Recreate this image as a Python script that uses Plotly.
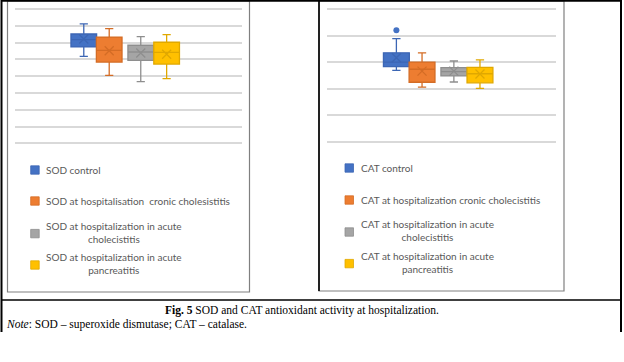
import plotly.graph_objects as go

# ---------------- data (arbitrary hidden units) ----------------
sod_names = ["SOD control",
             "SOD at hospitalisation  cronic cholesistitis",
             "SOD at hospitalization in acute<br>cholecistitis",
             "SOD at hospitalization in acute<br>pancreatitis"]
sod_lower = [51.8, 40.5, 36.7, 38.5]
sod_q1 = [57.4, 48.4, 49.4, 47.2]
sod_median = [61.8, 55.3, 54.4, 54.2]
sod_q3 = [65.1, 63.3, 58.4, 60.2]
sod_upper = [71.2, 68.3, 63.5, 64.7]
sod_mean = [62.1, 55.1, 53.8, 53.0]

cat_names = ["CAT control",
             "CAT at hospitalization cronic cholecistitis",
             "CAT at hospitalization in acute<br>cholecistitis",
             "CAT at hospitalization in acute<br>pancreatitis"]
cat_lower = [26.9, 20.6, 22.5, 20.1]
cat_q1 = [28.3, 22.4, 24.8, 22.2]
cat_median = [30.0, 27.3, 26.4, 25.6]
cat_q3 = [33.5, 30.0, 27.9, 28.0]
cat_upper = [38.8, 33.5, 30.4, 30.8]
cat_mean = [31.6, 26.6, 26.6, 25.5]
cat_outliers = [[42.0], [], [], []]

caption_title = "Fig. 5"
caption_text = " SOD and CAT antioxidant activity at hospitalization."
note_label = "Note"
note_text = ": SOD – superoxide dismutase; CAT – catalase."

# ---------------- styles / layout ----------------
fills = ["#4472C4", "#ED7D31", "#A5A5A5", "#FFC000"]
lines = ["#3C66B4", "#D46C25", "#8E8E8E", "#E0A800"]
box_pos = [3.03, 4.15, 5.54, 6.68]
box_w = 1.13
W, H = 624, 362

def px(x):
    return x / W

def py(y):
    return 1 - y / H

fig = go.Figure()

def add_panel(xa, ya, lower, q1, med, q3, upper, mean, outliers=None):
    for i in range(4):
        fig.add_trace(go.Box(
            x=[box_pos[i]], q1=[q1[i]], median=[med[i]], q3=[q3[i]],
            lowerfence=[lower[i]], upperfence=[upper[i]],
            width=box_w, whiskerwidth=0.32,
            fillcolor=fills[i], line=dict(color=lines[i], width=1.3),
            xaxis=xa, yaxis=ya, showlegend=False, hoverinfo="skip"))
        fig.add_trace(go.Scatter(
            x=[box_pos[i]], y=[mean[i]], mode="markers",
            marker=dict(symbol="x-thin-open", size=9, color=lines[i],
                        line=dict(color=lines[i], width=1.3)),
            xaxis=xa, yaxis=ya, showlegend=False, hoverinfo="skip"))
        if outliers and outliers[i]:
            fig.add_trace(go.Scatter(
                x=[box_pos[i]] * len(outliers[i]), y=outliers[i], mode="markers",
                marker=dict(symbol="circle", size=6, color=fills[i]),
                xaxis=xa, yaxis=ya, showlegend=False, hoverinfo="skip"))

add_panel("x", "y", sod_lower, sod_q1, sod_median, sod_q3, sod_upper, sod_mean)
add_panel("x2", "y2", cat_lower, cat_q1, cat_median, cat_q3, cat_upper, cat_mean, cat_outliers)

grid = dict(showgrid=True, gridcolor="#D9D9D9", gridwidth=1.5, zeroline=False,
            showticklabels=False, ticks="", showline=False, tick0=0, dtick=10,
            fixedrange=True)
xcommon = dict(range=[0, 10], showgrid=False, zeroline=False, showticklabels=False,
               ticks="", showline=False, fixedrange=True)

fig.update_layout(
    width=W, height=H, margin=dict(l=0, r=0, t=0, b=0),
    paper_bgcolor="white", plot_bgcolor="white",
    xaxis=dict(domain=[px(15), px(242)], **xcommon),
    yaxis=dict(domain=[py(145.3), py(7)], range=[-1.2, 81.2], **grid),
    xaxis2=dict(domain=[px(327), px(556)], anchor="y2", **xcommon),
    yaxis2=dict(domain=[py(143.7), py(7)], range=[-0.75, 50.75], anchor="x2", **grid),
)

shapes = []
# chart frames
shapes.append(dict(type="rect", xref="paper", yref="paper", x0=px(7.5), x1=px(249.5),
                   y0=py(292), y1=py(1), line=dict(color="#808080", width=1.2)))
shapes.append(dict(type="rect", xref="paper", yref="paper", x0=px(319), x1=px(564),
                   y0=py(291), y1=py(1), line=dict(color="#808080", width=1.2)))
shapes.append(dict(type="line", xref="paper", yref="paper", x0=px(319), x1=px(319),
                   y0=py(291), y1=py(1), line=dict(color="#222222", width=2)))
# table borders
shapes.append(dict(type="line", xref="paper", yref="paper", x0=px(1), x1=px(622),
                   y0=py(0.8), y1=py(0.8), line=dict(color="black", width=2)))
shapes.append(dict(type="line", xref="paper", yref="paper", x0=px(1.5), x1=px(1.5),
                   y0=py(332), y1=py(0), line=dict(color="black", width=2)))
shapes.append(dict(type="line", xref="paper", yref="paper", x0=px(621), x1=px(621),
                   y0=py(332), y1=py(0), line=dict(color="black", width=2)))
shapes.append(dict(type="line", xref="paper", yref="paper", x0=px(1), x1=px(622),
                   y0=py(300), y1=py(300), line=dict(color="black", width=1.3)))

annotations = []
legend_font = dict(family="Lato, Noto Sans, sans-serif", size=10, color="#595959")

def add_legend(names, sq_x, txt_x, centers):
    for i, name in enumerate(names):
        cy = centers[i]
        shapes.append(dict(type="rect", xref="paper", yref="paper",
                           x0=px(sq_x), x1=px(sq_x + 8.5),
                           y0=py(cy + 4.2), y1=py(cy - 4.2),
                           fillcolor=fills[i], line=dict(color=lines[i], width=0.8)))
        text_cy = cy - 1.5 if "<br>" in name else cy
        annotations.append(dict(xref="paper", yref="paper", x=px(txt_x), y=py(text_cy),
                                xanchor="left", yanchor="middle", align="center",
                                text=name, showarrow=False, font=legend_font))

add_legend(sod_names, 30.7, 43.5, [170, 201, 233.6, 265])
add_legend(cat_names, 345, 359, [168, 200, 232, 263.6])

serif = "Liberation Serif, Times New Roman, serif"
annotations.append(dict(xref="paper", yref="paper", x=px(302), y=py(310.5),
                        xanchor="center", yanchor="middle", showarrow=False,
                        text="<b>" + caption_title + "</b>" + caption_text,
                        font=dict(family=serif, size=11.5, color="black")))
annotations.append(dict(xref="paper", yref="paper", x=px(4), y=py(324.5),
                        xanchor="left", yanchor="middle", showarrow=False,
                        text="<i>" + note_label + "</i>" + note_text,
                        font=dict(family=serif, size=11.5, color="black")))

fig.update_layout(shapes=shapes, annotations=annotations)
fig.write_html("out.html", config={"displayModeBar": False},
               post_script="document.body.style.margin='0';document.body.style.overflow='hidden';")
